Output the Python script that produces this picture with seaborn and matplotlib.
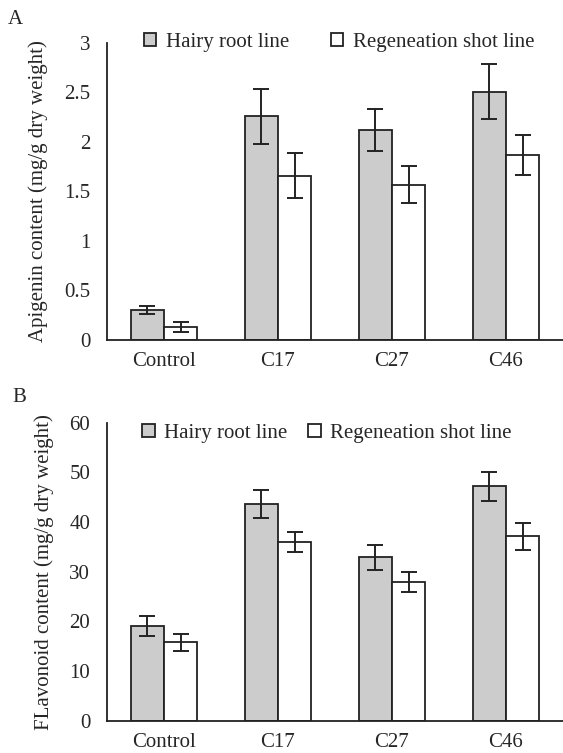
import pandas as pd
import matplotlib
matplotlib.use("Agg")
import matplotlib.pyplot as plt
import seaborn as sns

# Data
categories = ["Control", "C17", "C27", "C46"]
lines = ["Hairy root line", "Regeneation shot line"]

apigenin_hairy = [0.30, 2.26, 2.12, 2.51]
apigenin_hairy_sd = [0.04, 0.28, 0.21, 0.28]
apigenin_shoot = [0.135, 1.66, 1.57, 1.87]
apigenin_shoot_sd = [0.05, 0.23, 0.19, 0.20]

flav_hairy = [19.1, 43.7, 32.9, 47.2]
flav_hairy_sd = [2.0, 2.8, 2.5, 2.9]
flav_shoot = [15.8, 36.0, 28.0, 37.1]
flav_shoot_sd = [1.7, 2.0, 2.0, 2.75]

apigenin_ticks = [0, 0.5, 1, 1.5, 2, 2.5, 3]
apigenin_ticklabels = ["0", "0.5", "1", "1.5", "2", "2.5", "3"]
flav_ticks = [0, 10, 20, 30, 40, 50, 60]
flav_ticklabels = ["0", "10", "20", "30", "40", "50", "60"]

sns.set_theme(style="white")
plt.rcParams['font.family'] = ['Liberation Serif', 'DejaVu Serif']
plt.rcParams['font.size'] = 15

def make_df(hairy, hairy_sd, shoot, shoot_sd):
    rows = []
    for c, v, s in zip(categories, hairy, hairy_sd):
        rows.append({"cat": c, "line": lines[0], "val": v, "sd": s})
    for c, v, s in zip(categories, shoot, shoot_sd):
        rows.append({"cat": c, "line": lines[1], "val": v, "sd": s})
    return pd.DataFrame(rows)

def draw_panel(ax, df, ticks, ticklabels, ylabel, label_x, leg_anchor, colspace):
    sns.barplot(data=df, x="cat", y="val", hue="line", order=categories,
                hue_order=lines, palette=["#cccccc", "white"],
                edgecolor="#222222", linewidth=1.3, width=0.58, gap=0,
                errorbar=None, saturation=1, ax=ax)
    # error bars from the drawn patches
    for container, line in zip(ax.containers, lines):
        sub = df[df["line"] == line].set_index("cat").loc[categories]
        for patch, v, s in zip(container.patches, sub["val"], sub["sd"]):
            xc = patch.get_x() + patch.get_width() / 2
            ax.errorbar(xc, v, yerr=s, color="#222222", elinewidth=1.4,
                        capsize=5.5, capthick=1.4, zorder=5)
    ax.set_xlim(-0.5, 3.5)
    ax.set_ylim(ticks[0], ticks[-1])
    ax.set_yticks(ticks)
    ax.set_yticklabels(ticklabels)
    ax.set_xlabel("")
    ax.set_ylabel(ylabel, fontsize=15)
    ax.yaxis.set_label_coords(label_x, 0.5)
    ax.tick_params(axis="y", direction="in", length=6, width=1.2,
                   color="#222222", pad=12, labelsize=15)
    ax.tick_params(axis="x", length=0, pad=9, labelsize=15)
    for side in ["top", "right"]:
        ax.spines[side].set_visible(False)
    for side in ["left", "bottom"]:
        ax.spines[side].set_color("#222222")
        ax.spines[side].set_linewidth(1.3)
    handles, labels = ax.get_legend_handles_labels()
    ax.legend(handles, labels, ncol=2, frameon=False, loc="center left",
              bbox_to_anchor=leg_anchor, borderaxespad=0, borderpad=0,
              handlelength=0.6, handleheight=0.6, handletextpad=0.45,
              columnspacing=colspace, fontsize=15)

fig = plt.figure(figsize=(5.63, 7.53), dpi=100)
ax1 = fig.add_axes([0.190, 0.5485, 0.810, 0.3944])
ax2 = fig.add_axes([0.190, 0.0429, 0.810, 0.3958])

draw_panel(ax1, make_df(apigenin_hairy, apigenin_hairy_sd, apigenin_shoot, apigenin_shoot_sd),
           apigenin_ticks, apigenin_ticklabels, "Apigenin content (mg/g dry weight)",
           -0.129, (0.081, 1.003), 2.0)
draw_panel(ax2, make_df(flav_hairy, flav_hairy_sd, flav_shoot, flav_shoot_sd),
           flav_ticks, flav_ticklabels, "FLavonoid content (mg/g dry weight)",
           -0.116, (0.077, 0.964), 1.0)

fig.text(8 / 563, 1 - 24 / 753, "A", fontsize=15)
fig.text(12 / 563, 1 - 402 / 753, "B", fontsize=15)

plt.savefig("out.png", dpi=100)
